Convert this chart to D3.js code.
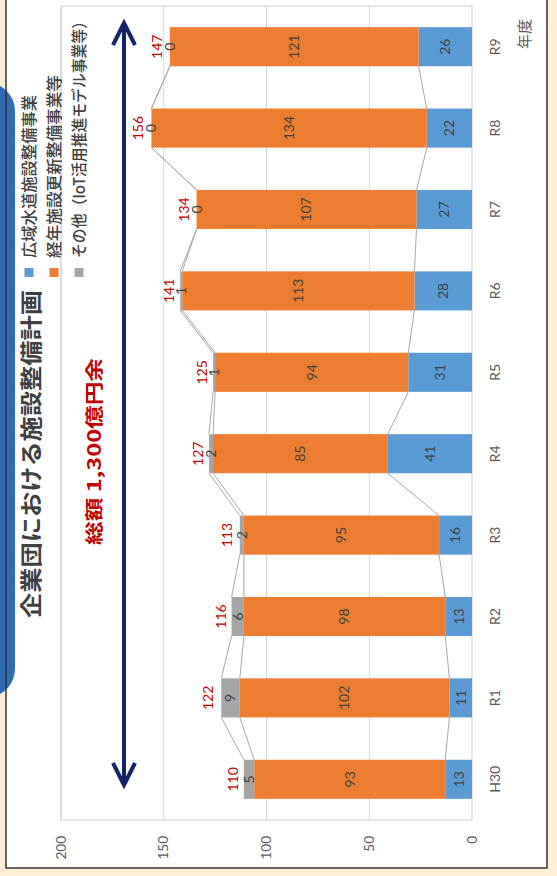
<!DOCTYPE html>
<html>
<head>
<meta charset="utf-8">
<script src="https://cdn.jsdelivr.net/npm/d3@7/dist/d3.min.js"></script>
<style>
  html, body { margin: 0; padding: 0; background: #fcefd3; }
  svg { display: block; }
</style>
</head>
<body>
<script>
// Facility plan by fiscal year (units: 億円)
const categories = ["H30", "R1", "R2", "R3", "R4", "R5", "R6", "R7", "R8", "R9"];
const wideArea   = [13, 11, 13, 16, 41, 31, 28, 27, 22, 26];      // 広域水道施設整備事業
const renewal    = [93, 102, 98, 95, 85, 94, 113, 107, 134, 121]; // 経年施設更新整備事業等
const other      = [5, 9, 6, 2, 2, 1, 1, 0, 0, 0];                // その他
const totals     = [110, 122, 116, 113, 127, 125, 141, 134, 156, 147];
const valueTicks = [0, 50, 100, 150, 200];
const seriesNames = ["広域水道施設整備事業", "経年施設更新整備事業等", "その他（IoT活用推進モデル事業等）"];
const seriesColors = ["#5b9bd5", "#ed7d31", "#a5a5a5"];

const W = 557, H = 876;
const svg = d3.select("body").append("svg").attr("width", W).attr("height", H);

// page background, white panel, blue tab
svg.append("rect").attr("width", W).attr("height", H).attr("fill", "#fcefd3");
svg.append("rect").attr("x", 6).attr("y", -2).attr("width", 541).attr("height", 870).attr("fill", "#fff");
svg.append("rect").attr("x", -40).attr("y", 83).attr("width", 55).attr("height", 614).attr("rx", 28).attr("fill", "#2e6db4");
svg.append("rect").attr("x", 6).attr("y", -2).attr("width", 541).attr("height", 870)
  .attr("fill", "none").attr("stroke", "#333").attr("stroke-width", 1.5);

// chart is laid out normally, then turned a quarter turn counter-clockwise
const g = svg.append("g").attr("transform", `translate(0,${H}) rotate(-90)`);

const x = d3.scaleBand().domain(categories).range([56, 870]).paddingInner(0.52).paddingOuter(0.26);
const y = d3.scaleLinear().domain([0, 200]).range([472, 61]);

const numFont = "Lato, 'Liberation Sans', sans-serif";
const jpFont = "'Noto Sans CJK JP', sans-serif";

// gridlines
g.append("g").selectAll("line").data(valueTicks.filter(v => v > 0)).join("line")
  .attr("x1", 56).attr("x2", 870)
  .attr("y1", d => y(d)).attr("y2", d => y(d))
  .attr("stroke", "#d9d9d9").attr("stroke-width", 1);

// plot border
g.append("rect").attr("x", 56).attr("y", y(200)).attr("width", 814).attr("height", y(0) - y(200))
  .attr("fill", "none").attr("stroke", "#cfcfcf").attr("stroke-width", 1);

// value axis labels
g.append("g").selectAll("text").data(valueTicks).join("text")
  .attr("x", 40).attr("y", d => y(d)).attr("dy", "0.35em")
  .attr("text-anchor", "end")
  .attr("font-family", numFont).attr("font-size", 13.5).attr("fill", "#595959")
  .text(d => d);

// category labels
g.append("g").selectAll("text").data(categories).join("text")
  .attr("x", d => x(d) + x.bandwidth() / 2).attr("y", 495).attr("dy", "0.35em")
  .attr("text-anchor", "middle")
  .attr("font-family", numFont).attr("font-size", 14).attr("fill", "#595959")
  .text(d => d);

// stacked data
const rows = categories.map((c, i) => ({ cat: c, wide: wideArea[i], renew: renewal[i], other: other[i], total: totals[i] }));
const stack = d3.stack().keys(["wide", "renew", "other"])(rows);

// series lines between neighbouring bars
stack.forEach(layer => {
  const segs = d3.pairs(layer);
  g.append("g").selectAll("line").data(segs).join("line")
    .attr("x1", d => x(d[0].data.cat) + x.bandwidth())
    .attr("y1", d => y(d[0][1]))
    .attr("x2", d => x(d[1].data.cat))
    .attr("y2", d => y(d[1][1]))
    .attr("stroke", "#a6a6a6").attr("stroke-width", 1);
});

// bars
stack.forEach((layer, si) => {
  g.append("g").selectAll("rect").data(layer).join("rect")
    .attr("x", d => x(d.data.cat))
    .attr("y", d => y(d[1]))
    .attr("width", x.bandwidth())
    .attr("height", d => y(d[0]) - y(d[1]))
    .attr("fill", seriesColors[si]);
});

// segment labels
stack.forEach(layer => {
  g.append("g").selectAll("text").data(layer).join("text")
    .attr("x", d => x(d.data.cat) + x.bandwidth() / 2)
    .attr("y", d => (y(d[0]) + y(d[1])) / 2).attr("dy", "0.35em")
    .attr("text-anchor", "middle")
    .attr("font-family", numFont).attr("font-size", 14).attr("fill", "#404040")
    .text(d => d[1] - d[0]);
});

// totals
g.append("g").selectAll("text").data(rows).join("text")
  .attr("x", d => x(d.cat) + x.bandwidth() / 2)
  .attr("y", d => y(d.total) - 13).attr("dy", "0.35em")
  .attr("text-anchor", "middle")
  .attr("font-family", numFont).attr("font-size", 14).attr("fill", "#c00000")
  .text(d => d.total);

// axis title
g.append("text").attr("x", 842).attr("y", 525).attr("dy", "0.35em").attr("text-anchor", "middle")
  .attr("font-family", jpFont).attr("font-size", 15).attr("fill", "#595959").text("年度");

// chart title
g.append("text").attr("x", 258).attr("y", 31).attr("dy", "0.36em")
  .attr("font-family", jpFont).attr("font-size", 22).attr("font-weight", "bold").attr("fill", "#404040")
  .attr("textLength", 328).attr("lengthAdjust", "spacingAndGlyphs")
  .text("企業団における施設整備計画");

// legend
const legendV = [29, 54, 79];
const legendLen = [163, 183, 244];
const lg = g.append("g");
lg.selectAll("rect").data(seriesNames).join("rect")
  .attr("x", 599).attr("y", (d, i) => legendV[i] - 4.5).attr("width", 9).attr("height", 9)
  .attr("fill", (d, i) => seriesColors[i]);
lg.selectAll("text").data(seriesNames).join("text")
  .attr("x", 618).attr("y", (d, i) => legendV[i]).attr("dy", "0.36em")
  .attr("font-family", jpFont).attr("font-size", 16).attr("font-weight", 500).attr("fill", "#404040")
  .attr("textLength", (d, i) => legendLen[i]).attr("lengthAdjust", "spacingAndGlyphs")
  .text(d => d);

// span arrow
const arrowColor = "#14246b";
const a0 = 91, a1 = 853, av = 124;
g.append("line").attr("x1", a0 + 2).attr("x2", a1 - 2).attr("y1", av).attr("y2", av)
  .attr("stroke", arrowColor).attr("stroke-width", 4);
g.append("path")
  .attr("d", `M${a0 + 22},${av - 11} L${a0},${av} L${a0 + 22},${av + 11} M${a1 - 22},${av - 11} L${a1},${av} L${a1 - 22},${av + 11}`)
  .attr("fill", "none").attr("stroke", arrowColor).attr("stroke-width", 4).attr("stroke-linejoin", "miter");

// total amount note
g.append("text").attr("x", 331).attr("y", 95).attr("dy", "0.36em")
  .attr("font-family", jpFont).attr("font-size", 18).attr("font-weight", "bold").attr("fill", "#c00000")
  .attr("textLength", 187).attr("lengthAdjust", "spacingAndGlyphs")
  .text("総額 1,300億円余");
</script>
</body>
</html>
